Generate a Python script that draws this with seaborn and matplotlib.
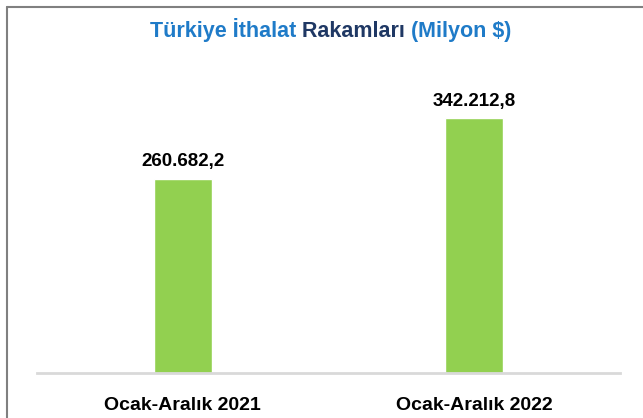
import matplotlib
matplotlib.use("Agg")
import matplotlib.pyplot as plt
import seaborn as sns
from matplotlib.lines import Line2D

# data
categories = ["Ocak-Aralık 2021", "Ocak-Aralık 2022"]
values = [260682.2, 342212.8]
value_labels = ["260.682,2", "342.212,8"]
title_parts = [("Türkiye İthalat ", "#1f7bc8"), ("Rakamları ", "#1f3864"), ("(Milyon $)", "#1f7bc8")]

FONT = ["Liberation Sans", "DejaVu Sans"]


def draw_title(fig, y):
    renderer = fig.canvas.get_renderer()
    texts = []
    for part, col in title_parts:
        t = fig.text(0, y, part, color=col, fontsize=15.5, fontweight="bold",
                     family=FONT, va="baseline", ha="left")
        texts.append(t)
    widths = [t.get_window_extent(renderer).width for t in texts]
    total = sum(widths)
    fig_w = fig.bbox.width
    x = (331 - total / 2)
    for t, w in zip(texts, widths):
        t.set_x(x / fig_w)
        x += w


def main():
    sns.set_style("white")
    plt.rcParams["font.family"] = FONT

    fig = plt.figure(figsize=(6.43, 4.18), dpi=100)
    ax = fig.add_axes([37 / 643, 1 - 373 / 418, 583 / 643, (373 - 75) / 418])

    sns.barplot(x=categories, y=values, width=0.2, color="#92d050",
                saturation=1, ax=ax)
    ax.set_ylim(0, 400000)
    ax.set_xlim(-0.5, 1.5)
    ax.set_yticks([])
    ax.set_ylabel("")
    for s in ["left", "right", "top"]:
        ax.spines[s].set_visible(False)
    ax.spines["bottom"].set_color("#d9d9d9")
    ax.spines["bottom"].set_linewidth(2)
    ax.tick_params(axis="x", length=0, pad=17)
    for lab in ax.get_xticklabels():
        lab.set_fontsize(14)
        lab.set_fontweight("bold")
        lab.set_color("black")

    for i, (v, lab) in enumerate(zip(values, value_labels)):
        ax.annotate(lab, (i, v), xytext=(0, 6), textcoords="offset points",
                    ha="center", va="bottom", fontsize=13.5, fontweight="bold",
                    color="black")

    # frame around the chart area
    x0 = 6.5 / 643
    y0 = 1 - 6.5 / 418
    fig.add_artist(Line2D([x0, x0], [0, y0], color="#808080", lw=1.5))
    fig.add_artist(Line2D([x0, 1], [y0, y0], color="#808080", lw=1.5))

    draw_title(fig, 1 - 37 / 418)

    fig.savefig("out.png", dpi=100)
    plt.close(fig)


if __name__ == "__main__":
    main()
